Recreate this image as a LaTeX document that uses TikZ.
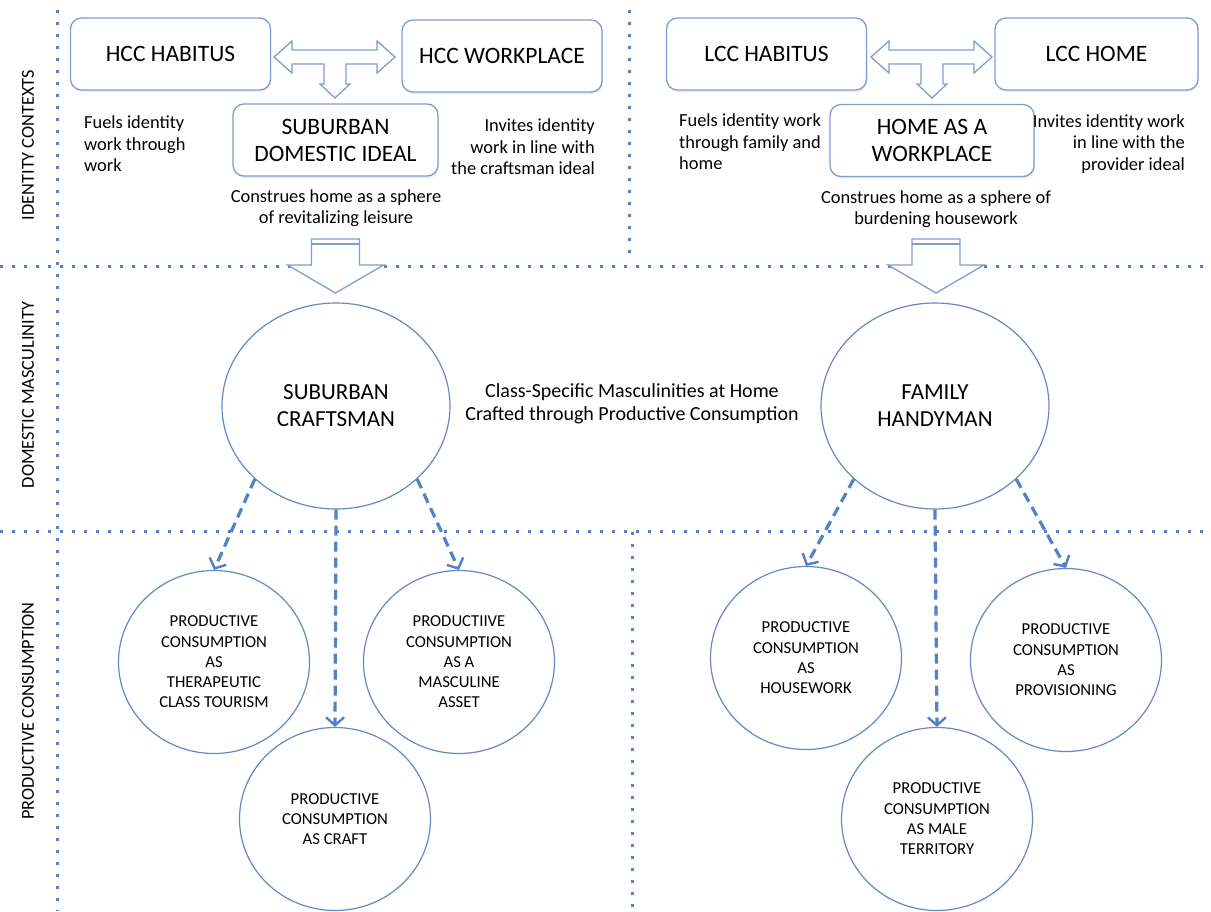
\documentclass[tikz,border=0pt]{standalone}
\usepackage{fontspec}
\setmainfont{Carlito}
\usetikzlibrary{shapes.geometric,arrows.meta,shadows}
\definecolor{dotblue}{RGB}{88,128,196}
\definecolor{lineblue}{RGB}{84,128,198}
\definecolor{boxblue}{RGB}{126,158,210}
\definecolor{ringblue}{RGB}{100,136,196}
\begin{document}
\begin{tikzpicture}[x=1pt,y=-1pt,
  ctx/.style={draw=boxblue,line width=1.3pt,rounded corners=11pt,fill=white,
    minimum width=200pt,minimum height=72pt,align=center,
    font=\fontsize{23.5}{27}\selectfont,
    drop shadow={opacity=.15,shadow xshift=1pt,shadow yshift=-2pt}},
  masc/.style={ellipse,draw=ringblue,line width=1.2pt,fill=white,inner sep=0pt,
    minimum width=228pt,minimum height=206pt,align=center,
    font=\fontsize{23}{27}\selectfont},
  prod/.style={ellipse,draw=ringblue,line width=1.2pt,fill=white,inner sep=0pt,
    minimum width=191pt,minimum height=183pt,align=center,
    font=\fontsize{16.7}{20.3}\selectfont},
  note/.style={inner sep=0pt,font=\fontsize{18.4}{21.5}\selectfont},
  axis/.style={rotate=90,inner sep=0pt,font=\fontsize{18.3}{22}\selectfont},
  grid/.style={dotblue,line width=3pt,dash pattern=on 3pt off 9pt,dash phase=-12pt},
  flow/.style={lineblue,line width=3.2pt,dash pattern=on 10pt off 6pt,
    -{Straight Barb[length=8pt,width=18pt,line width=2.4pt]}},
  block/.style={draw=boxblue,line width=1.3pt,fill=white,line join=miter}]
  \useasboundingbox (0,0) rectangle (1211,911);
  \fill[white] (0,0) rectangle (1211,911);
  \draw[grid] (57,10) -- (57,911);
  \draw[grid] (629,10) -- (629,256);
  \draw[grid] (0,266) -- (1211,266);
  \draw[grid] (0,531) -- (1211,531);
  \draw[grid] (632,532) -- (632,911);
  \node[axis] (ctxlab) at (28,145) {IDENTITY CONTEXTS};
  \node[axis] (masclab) at (28,395) {DOMESTIC MASCULINITY};
  \node[axis] (prodlab) at (28,711) {PRODUCTIVE CONSUMPTION};
  \node[ctx] (hcchab) at (170.5,54) {HCC HABITUS};
  \node[ctx] (hccwork) at (502,56) {HCC WORKPLACE};
  \node[ctx,minimum width=205pt] (subideal) at (335.5,140) {SUBURBAN\\DOMESTIC IDEAL};
  \node[ctx] (lcchab) at (766.5,54) {LCC HABITUS};
  \node[ctx,minimum width=203pt] (lcchome) at (1096.5,54) {LCC HOME};
  \node[ctx,minimum width=204pt] (homework) at (932,140.5) {HOME AS A\\WORKPLACE};
  \foreach \c in {335,932} {
    \draw[block] (\c-61,57) -- (\c-43,41) -- (\c-43,50) -- (\c+42,50) -- (\c+42,41)
      -- (\c+60,57) -- (\c+42,73) -- (\c+42,64) -- (\c+11,64) -- (\c+11,84)
      -- (\c+15,84) -- (\c,98) -- (\c-15,84) -- (\c-11,84) -- (\c-11,64)
      -- (\c-43,64) -- (\c-43,73) -- cycle;
  }
  \node[note,anchor=west,align=left] (hccfuel) at (84,144) {Fuels identity\\work through\\work};
  \node[note,anchor=east,align=right] (hccinv) at (595,147) {Invites identity\\work in line with\\the craftsman ideal};
  \node[note,align=center] (hcccon) at (336,208) {Construes home as a sphere\\of revitalizing leisure};
  \node[note,anchor=west,align=left] (lccfuel) at (679,142) {Fuels identity work\\through family and\\home};
  \node[note,anchor=east,align=right] (lccinv) at (1185,144) {Invites identity work\\in line with the\\provider ideal};
  \node[note,align=center] (lcccon) at (936,209) {Construes home as a sphere of\\burdening housework};
  \foreach \c in {335.5,936} {
    \draw[block] (\c-24,239) -- (\c+24,239) -- (\c+24,265) -- (\c+48,265) -- (\c,293)
      -- (\c-48,265) -- (\c-24,265) -- cycle;
    \draw[boxblue,line width=1.3pt] (\c-24,244) -- (\c+24,244);
  }
  \node[masc] (craftsman) at (336,406) {SUBURBAN\\CRAFTSMAN};
  \node[masc] (handyman) at (935,406) {FAMILY\\HANDYMAN};
  \node[note,align=center,font=\fontsize{20}{23}\selectfont] (classnote) at (632,404)
    {Class-Specific Masculinities at Home\\Crafted through Productive Consumption};
  \node[prod] (tourism) at (214,662) {PRODUCTIVE\\CONSUMPTION\\AS\\THERAPEUTIC\\CLASS TOURISM};
  \node[prod] (asset) at (459,662) {PRODUCTIIVE\\CONSUMPTION\\AS A\\MASCULINE\\ASSET};
  \node[prod] (craft) at (335,819) {PRODUCTIVE\\CONSUMPTION\\AS CRAFT};
  \node[prod] (housework) at (806,658) {PRODUCTIVE\\CONSUMPTION\\AS\\HOUSEWORK};
  \node[prod] (provision) at (1066,660) {PRODUCTIVE\\CONSUMPTION\\AS\\PROVISIONING};
  \node[prod] (territory) at (937,819) {PRODUCTIVE\\CONSUMPTION\\AS MALE\\TERRITORY};
  \draw[flow] (craftsman.222) -- (tourism.north);
  \draw[flow] (craftsman.south) -- (craft.north);
  \draw[flow] (craftsman.318) -- (asset.north);
  \draw[flow] (handyman.222) -- (housework.north);
  \draw[flow] (handyman.south) -- (territory.north);
  \draw[flow] (handyman.318) -- (provision.north);
\end{tikzpicture}
\end{document}
